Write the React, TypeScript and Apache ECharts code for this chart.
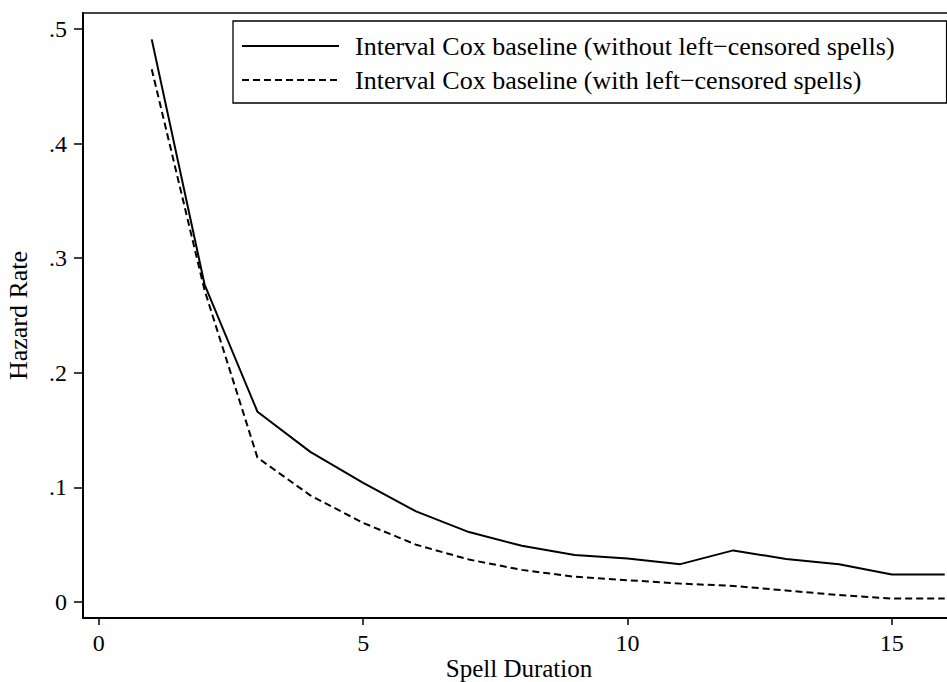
import React, { useEffect, useRef } from "react";
import * as echarts from "echarts";

const durations = [1, 2, 3, 4, 5, 6, 7, 8, 9, 10, 11, 12, 13, 14, 15, 16];
const withoutLeftCensored = [0.491, 0.277, 0.166, 0.131, 0.104, 0.079, 0.061, 0.049, 0.041, 0.038, 0.033, 0.045, 0.0375, 0.033, 0.024, 0.024];
const withLeftCensored = [0.465, 0.272, 0.126, 0.093, 0.069, 0.050, 0.037, 0.028, 0.022, 0.019, 0.016, 0.014, 0.010, 0.006, 0.003, 0.003];
const xTicks = [0, 5, 10, 15];
const yTicks = [0, 0.1, 0.2, 0.3, 0.4, 0.5];
const seriesNames = [
  "Interval Cox baseline (without left\u2212censored spells)",
  "Interval Cox baseline (with left\u2212censored spells)",
];
const xTitle = "Spell Duration";
const yTitle = "Hazard Rate";

const FONT = "Liberation Serif";

export default function App() {
  const ref = useRef<HTMLDivElement>(null);
  useEffect(() => {
    if (!ref.current) return;
    const chart = echarts.init(ref.current, undefined, { renderer: "svg" });
    chart.setOption({
      animation: false,
      backgroundColor: "#fff",
      textStyle: { fontFamily: FONT, color: "#000" },
      grid: {
        left: 83,
        top: 13,
        right: -3,
        bottom: 64,
        containLabel: false,
        outerBoundsMode: "none",
        show: true,
        borderColor: "#444",
        borderWidth: 2,
        backgroundColor: "transparent",
      },
      graphic: [
        {
          type: "text",
          x: 519,
          y: 668,
          style: {
            text: xTitle,
            align: "center",
            verticalAlign: "middle",
            font: `25px "${FONT}"`,
            fill: "#000",
          },
        },
      ],
      legend: {
        orient: "vertical",
        left: 233,
        top: 21,
        itemWidth: 97,
        itemHeight: 14,
        itemGap: 8,
        padding: [12, 52, 10, 8],
        borderColor: "#000",
        borderWidth: 1.3,
        itemStyle: { opacity: 0 },
        textStyle: { fontFamily: FONT, fontSize: 26, color: "#000", padding: [0, 0, 0, 11] },
        data: seriesNames,
      },
      xAxis: {
        type: "value",
        min: -0.3,
        max: 16.1,
        axisLine: { show: true, onZero: false, lineStyle: { color: "#000", width: 2 } },
        axisTick: { show: true, customValues: xTicks, length: 7, lineStyle: { color: "#000", width: 1.5 } },
        axisLabel: {
          customValues: xTicks,
          margin: 13,
          fontFamily: FONT,
          fontSize: 24,
          color: "#000",
        },
        splitLine: { show: false },
      },
      yAxis: {
        type: "value",
        min: -0.014,
        max: 0.514,
        name: yTitle,
        nameLocation: "middle",
        nameGap: 52,
        nameTextStyle: { fontFamily: FONT, fontSize: 26, color: "#000" },
        axisLine: { show: true, onZero: false, lineStyle: { color: "#000", width: 2 } },
        axisTick: { show: true, customValues: yTicks, length: 9, lineStyle: { color: "#000", width: 1.5 } },
        axisLabel: {
          customValues: yTicks,
          margin: 16,
          fontFamily: FONT,
          fontSize: 24,
          color: "#000",
          formatter: (v: number) => (Math.abs(v) < 1e-9 ? "0" : String(Math.round(v * 10) / 10).replace("0.", ".")),
        },
        splitLine: { show: false },
      },
      series: [
        {
          name: seriesNames[0],
          type: "line",
          data: durations.map((d, i) => [d, withoutLeftCensored[i]]),
          symbol: "none",
          lineStyle: { color: "#000", width: 2, type: "solid" },
          itemStyle: { color: "#000" },
        },
        {
          name: seriesNames[1],
          type: "line",
          data: durations.map((d, i) => [d, withLeftCensored[i]]),
          symbol: "none",
          lineStyle: { color: "#000", width: 2, type: [7, 4] },
          itemStyle: { color: "#000" },
        },
      ],
    });
    return () => chart.dispose();
  }, []);
  return <div ref={ref} style={{ width: 947, height: 682, position: "absolute", left: 0, top: 0 }} />;
}
